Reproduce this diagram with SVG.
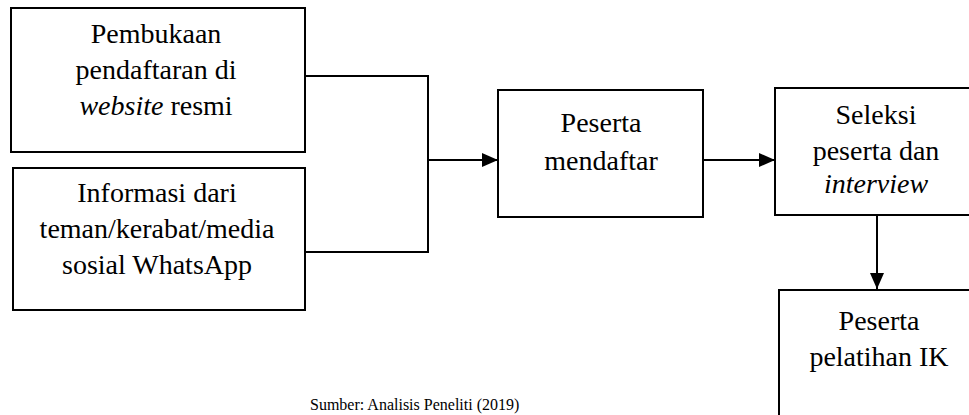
<svg xmlns="http://www.w3.org/2000/svg" width="969" height="415" viewBox="0 0 969 415">
  <style>
    .box { fill: #ffffff; stroke: #000000; stroke-width: 2; }
    .line { fill: none; stroke: #000000; stroke-width: 2; }
    .label { font-family: "Liberation Serif", "Times New Roman", serif; font-size: 28px; fill: #000000; text-anchor: middle; }
    .caption { font-family: "Liberation Serif", "Times New Roman", serif; font-size: 16px; fill: #000000; }
    .em { font-style: italic; }
  </style>
  <defs>
    <marker id="arrow" markerWidth="16" markerHeight="14" refX="16" refY="7" orient="auto" markerUnits="userSpaceOnUse">
      <path d="M0,0 L16,7 L0,14 Z" fill="#000000"/>
    </marker>
  </defs>

  <rect width="969" height="415" fill="#ffffff"/>

  <g id="connectors">
    <polyline class="line" points="305,76 428,76 428,252 305,252"/>
    <line class="line" x1="428" y1="160" x2="498" y2="160" marker-end="url(#arrow)"/>
    <line class="line" x1="703" y1="160" x2="775" y2="160" marker-end="url(#arrow)"/>
    <line class="line" x1="877" y1="215" x2="877" y2="289" marker-end="url(#arrow)"/>
  </g>

  <g id="node-pembukaan">
    <rect class="box" x="11" y="8" width="294" height="144"/>
    <text class="label" x="156" y="43">Pembukaan</text>
    <text class="label" x="156" y="79">pendaftaran di</text>
    <text class="label" x="156" y="115"><tspan class="em">website</tspan> resmi</text>
  </g>

  <g id="node-informasi">
    <rect class="box" x="13" y="168" width="292" height="142"/>
    <text class="label" x="157" y="202">Informasi dari</text>
    <text class="label" x="157" y="238">teman/kerabat/media</text>
    <text class="label" x="157" y="274">sosial WhatsApp</text>
  </g>

  <g id="node-mendaftar">
    <rect class="box" x="498" y="90" width="205" height="127"/>
    <text class="label" x="601" y="132">Peserta</text>
    <text class="label" x="601" y="170">mendaftar</text>
  </g>

  <g id="node-seleksi">
    <rect class="box" x="775" y="88" width="204" height="127"/>
    <text class="label" x="876" y="124">Seleksi</text>
    <text class="label" x="876" y="160">peserta dan</text>
    <text class="label em" x="876" y="193">interview</text>
  </g>

  <g id="node-pelatihan">
    <rect class="box" x="779" y="290" width="200" height="140"/>
    <text class="label" x="879" y="330">Peserta</text>
    <text class="label" x="879" y="366">pelatihan IK</text>
  </g>

  <text class="caption" x="310" y="410">Sumber: Analisis Peneliti (2019)</text>
</svg>
